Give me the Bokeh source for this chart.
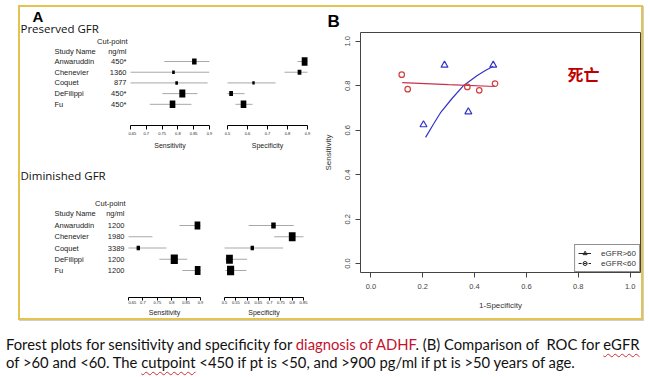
from bokeh.plotting import figure
from bokeh.models import (Range1d, Div, Spacer, FixedTicker, Legend, LegendItem, Label,
                          CustomJSTickFormatter, PrintfTickFormatter)
from bokeh.layouts import row, column
from bokeh.embed import file_html
from bokeh.resources import INLINE
from bokeh.core.properties import value

# ---------------- data ----------------
studies = ["Anwaruddin", "Chenevier", "Coquet", "DeFilippi", "Fu"]

pres_cut = ["450*", "1360", "877", "450*", "450*"]
pres_sens = [0.852, 0.786, 0.796, 0.814, 0.783]
pres_sens_lo = [0.757, 0.62, 0.62, 0.751, 0.711]
pres_sens_hi = [0.913, 0.900, 0.894, 0.862, 0.843]
pres_sens_wt = [6.0, 3.5, 3.5, 8.0, 7.5]
pres_spec = [0.887, 0.860, 0.630, 0.518, 0.580]
pres_spec_lo = [0.850, 0.785, 0.46, 0.49, 0.540]
pres_spec_hi = [0.915, 0.910, 0.740, 0.585, 0.625]
pres_spec_wt = [8.5, 5.0, 3.2, 5.0, 7.5]

dim_cut = ["1200", "1980", "3389", "1200", "1200"]
dim_sens = [0.890, 0.600, 0.684, 0.809, 0.892]
dim_sens_lo = [0.827, 0.50, 0.60, 0.757, 0.837]
dim_sens_hi = [0.935, 0.733, 0.782, 0.854, 0.930]
dim_sens_wt = [8.0, 6.0, 4.5, 9.5, 9.0]
dim_spec = [0.717, 0.800, 0.623, 0.522, 0.527]
dim_spec_lo = [0.607, 0.720, 0.48, 0.504, 0.504]
dim_spec_hi = [0.807, 0.860, 0.760, 0.600, 0.597]
dim_spec_wt = [6.0, 9.0, 4.5, 9.0, 9.5]

pres_sens_ticks = [0.65, 0.7, 0.75, 0.8, 0.85, 0.9]
pres_spec_ticks = [0.5, 0.6, 0.7, 0.8, 0.9]
dim_sens_ticks = [0.65, 0.7, 0.75, 0.8, 0.85, 0.9]
dim_spec_ticks = [0.5, 0.55, 0.6, 0.65, 0.7, 0.75, 0.8, 0.85]

# ROC panel (B)
hi_pts_x = [0.203, 0.284, 0.376, 0.472]      # eGFR>60 (triangles)
hi_pts_y = [0.625, 0.893, 0.683, 0.893]
lo_pts_x = [0.119, 0.142, 0.372, 0.418, 0.479]  # eGFR<60 (circles)
lo_pts_y = [0.850, 0.785, 0.795, 0.780, 0.810]
hi_curve_x = [0.211, 0.240, 0.268, 0.313, 0.358, 0.409, 0.440, 0.472]
hi_curve_y = [0.568, 0.625, 0.678, 0.743, 0.802, 0.845, 0.868, 0.888]
lo_curve_x = [0.121, 0.300, 0.479]
lo_curve_y = [0.814, 0.805, 0.797]
roc_ticks = [0.0, 0.2, 0.4, 0.6, 0.8, 1.0]

SANS = "Liberation Sans"
TXT = "#222222"
GREY_CI = "#a8a8a8"
BLUE = "#3434C8"
RED = "#D04040"
RED_LINE = "#C8304A"
NAN = float("nan")


def tick_fmt():
    return CustomJSTickFormatter(code="return String(+tick.toFixed(4));")


def label_fig(height, yr, mbb, title, title_y, cut_x, hdr_y1, hdr_y2, cuts, show_a):
    p = figure(width=108, height=height, x_range=Range1d(20, 128), y_range=yr,
               output_backend="svg", toolbar_location=None,
               min_border_left=0, min_border_right=0, min_border_top=0, min_border_bottom=mbb,
               x_axis_location=None, y_axis_location=None)
    p.outline_line_color = None
    p.grid.visible = False
    rows = list(range(len(studies)))
    kw = dict(text_font=value(SANS), text_font_size="7.5px", text_color=TXT,
              text_baseline="middle")
    if show_a:
        p.text(x=[32], y=[title_y - 1.17], text=["A"], text_font=value(SANS),
               text_font_size="15px", text_font_style="bold", text_color="black",
               text_baseline="middle", text_align="left")
    p.text(x=[20], y=[title_y], text=[title], text_font=value("Open Sans"),
           text_font_size="11.5px", text_color="#111111", text_baseline="middle", text_align="left")
    p.text(x=[cut_x + 1], y=[hdr_y1], text=["Cut-point"], text_align="right", **kw)
    p.text(x=[54], y=[hdr_y2], text=["Study Name"], text_align="left", **kw)
    p.text(x=[cut_x], y=[hdr_y2], text=["ng/ml"], text_align="right", **kw)
    p.text(x=[54] * len(rows), y=rows, text=studies, text_align="left", **kw)
    p.text(x=[cut_x] * len(rows), y=rows, text=cuts, text_align="right", **kw)
    return p


def forest_fig(width, height, xs, xe, yr, mbl, mbr, mbb, ticks, est, lo, hi, wt, label,
               tick_out, lab_so, axlab_so):
    p = figure(width=width, height=height, x_range=Range1d(xs, xe), y_range=yr,
               output_backend="svg", toolbar_location=None,
               min_border_left=mbl, min_border_right=mbr, min_border_top=0, min_border_bottom=mbb,
               y_axis_location=None)
    p.outline_line_color = None
    p.grid.visible = False
    rows = list(range(len(est)))
    p.segment(x0=lo, y0=rows, x1=hi, y1=rows, line_color=GREY_CI, line_width=1)
    p.rect(x=est, y=rows, width=[w * 0.75 for w in wt], height=wt,
           width_units="screen", height_units="screen", fill_color="black", line_color=None)
    ax = p.xaxis[0]
    ax.ticker = FixedTicker(ticks=ticks)
    ax.formatter = tick_fmt()
    ax.minor_tick_line_color = None
    ax.major_tick_out = tick_out
    ax.major_tick_in = 0
    ax.axis_line_color = "black"
    ax.major_tick_line_color = "black"
    ax.major_label_text_font_size = "4px"
    ax.major_label_text_font = SANS
    ax.major_label_text_color = TXT
    ax.major_label_standoff = lab_so
    ax.axis_label = label
    ax.axis_label_text_font = SANS
    ax.axis_label_text_font_size = "7px"
    ax.axis_label_text_font_style = "normal"
    ax.axis_label_text_color = TXT
    ax.axis_label_standoff = axlab_so
    return p


# ---------- Preserved GFR block (page y 7..160) ----------
H1 = 153
yr1 = Range1d(5.98, -5.05)
pres_lab = label_fig(H1, yr1, 35, "Preserved GFR", -3.08, 126, -1.87, -0.93, pres_cut, True)
pres_sf = forest_fig(90, H1, 0.65, 0.9, yr1, 2, 9, 35, pres_sens_ticks, pres_sens,
                     pres_sens_lo, pres_sens_hi, pres_sens_wt, "Sensitivity", 4, 2, 4)
pres_pf = forest_fig(100, H1, 0.5, 0.9, yr1, 9, 11, 35, pres_spec_ticks, pres_spec,
                     pres_spec_lo, pres_spec_hi, pres_spec_wt, "Specificity", 4, 2, 4)

# ---------- Diminished GFR block (page y 160..318) ----------
H2 = 158
yr2 = Range1d(6.4, -5.78)
dim_lab = label_fig(H2, yr2, 21, "Diminished GFR", -4.44, 124, -1.96, -1.07, dim_cut, False)
dim_sf = forest_fig(82, H2, 0.65, 0.9, yr2, 0, 10, 21, dim_sens_ticks, dim_sens,
                    dim_sens_lo, dim_sens_hi, dim_sens_wt, "Sensitivity", 3, 0, 2)
dim_pf = forest_fig(108, H2, 0.5, 0.85, yr2, 14, 15, 21, dim_spec_ticks, dim_spec,
                    dim_spec_lo, dim_spec_hi, dim_spec_wt, "Specificity", 3, 0, 2)

panelA = column(row(pres_lab, pres_sf, pres_pf), row(dim_lab, dim_sf, dim_pf))

# ---------- Panel B : ROC ----------
pB = figure(width=323, height=311, x_range=Range1d(-0.04, 1.04), y_range=Range1d(-0.04, 1.04),
            output_backend="svg", toolbar_location=None,
            min_border_left=42, min_border_right=1, min_border_top=24, min_border_bottom=46)
pB.outline_line_color = "#444444"
pB.outline_line_width = 1
pB.grid.visible = False
for ax in (pB.xaxis[0], pB.yaxis[0]):
    ax.ticker = FixedTicker(ticks=roc_ticks)
    ax.formatter = PrintfTickFormatter(format="%.1f")
    ax.axis_line_color = None
    ax.major_tick_out = 5
    ax.major_tick_in = 0
    ax.minor_tick_line_color = None
    ax.major_tick_line_color = "#444444"
    ax.major_label_text_font = SANS
    ax.major_label_text_font_size = "7.5px"
    ax.major_label_text_color = "#444444"
    ax.axis_label_text_font = SANS
    ax.axis_label_text_font_size = "8px"
    ax.axis_label_text_font_style = "normal"
    ax.axis_label_text_color = "#333333"
pB.yaxis[0].major_label_orientation = "vertical"
pB.xaxis[0].major_label_standoff = 6
pB.yaxis[0].major_label_standoff = 5
pB.xaxis[0].axis_label_standoff = 9
pB.yaxis[0].axis_label_standoff = 10
pB.xaxis[0].axis_label = "1-Specificity"
pB.yaxis[0].axis_label = "Sensitivity"

pB.title.text = "B"
pB.title.align = "left"
pB.title.offset = -33
pB.title.standoff = 4
pB.title.text_font = SANS
pB.title.text_font_size = "17px"
pB.title.text_font_style = "bold"
pB.title.text_color = "black"

pB.line(hi_curve_x, hi_curve_y, line_color=BLUE, line_width=1.2)
pB.line(lo_curve_x, lo_curve_y, line_color=RED_LINE, line_width=1.2)
pB.scatter(hi_pts_x, hi_pts_y, marker="triangle", size=7, fill_color=None,
           line_color=BLUE, line_width=1.2)
pB.scatter(lo_pts_x, lo_pts_y, marker="circle", size=5.5, fill_color=None,
           line_color=RED, line_width=1.2)

# legend glyph renderers (black, as in the original); no visible data
lg1 = pB.line([NAN], [NAN], line_color="#222222", line_width=1)
lg2 = pB.scatter([NAN], [NAN], marker="triangle", size=6, fill_color=None, line_color="#222222")
lg3 = pB.line([NAN], [NAN], line_color="#222222", line_width=1, line_dash="3 2")
lg4 = pB.scatter([NAN], [NAN], marker="circle", size=5, fill_color=None, line_color="#222222")
leg = Legend(items=[LegendItem(label="eGFR>60", renderers=[lg1, lg2]),
                    LegendItem(label="eGFR<60", renderers=[lg3, lg4])],
             location="bottom_right", margin=0, padding=3, spacing=0,
             glyph_width=13, glyph_height=10, label_height=9, label_standoff=10,
             label_text_font=SANS, label_text_font_size="8px",
             label_text_color="#333333", border_line_color="#222222", border_line_width=1,
             background_fill_color="white", background_fill_alpha=1)
pB.add_layout(leg, "center")

pB.add_layout(Label(x=0.82, y=0.853, text="死亡", text_font="Noto Sans CJK SC",
                    text_font_size="16px", text_font_style="bold", text_color="#C00000",
                    text_align="center", text_baseline="middle"))

framed = row(panelA, pB, styles={"border": "2px solid #E3C450",
                                 "box-shadow": "1px 1px 0 #cfcfcf"})

# ---------- caption ----------
cap_line1_a = "Forest plots for sensitivity and specificity for "
cap_red = "diagnosis of ADHF"
cap_line1_b = ". (B) Comparison of&nbsp; ROC for "
cap_line1_c = "eGFR"
cap_line2_a = "of &gt;60 and &lt;60. The "
cap_line2_b = "cutpoint"
cap_line2_c = " &lt;450 if pt is &lt;50, and &gt;900 pg/ml if pt is &gt;50 years of age."
wavy = ("text-decoration: underline wavy #d03030; text-decoration-thickness: 1px;"
        " text-underline-offset: 3px;")
caption_html = (
    '<div style="font-family: Lato, \'Open Sans\', sans-serif; font-size: 14.8px; '
    'line-height: 18px; color: #111; padding: 10px 0 0 1px; white-space: nowrap;">'
    + cap_line1_a + '<span style="color:#C4122F">' + cap_red + '</span>' + cap_line1_b
    + '<span style="' + wavy + '">' + cap_line1_c + '</span><br>'
    + cap_line2_a + '<span style="' + wavy + '">' + cap_line2_b + '</span>' + cap_line2_c
    + '</div>')
caption = Div(text=caption_html, width=650, height=57)

page = column(Spacer(width=650, height=5), row(Spacer(width=18, height=315), framed), caption)

open("out.html", "w").write(file_html(page, INLINE))
